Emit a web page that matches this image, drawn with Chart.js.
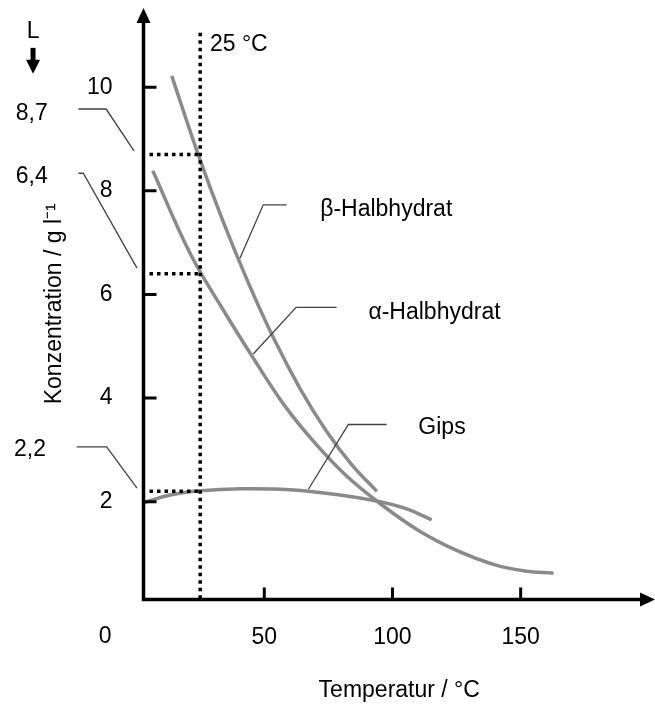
<!DOCTYPE html>
<html>
<head>
<meta charset="utf-8">
<script src="https://cdn.jsdelivr.net/npm/chart.js@4/dist/chart.umd.min.js"></script>
<style>
    html, body { margin: 0; padding: 0; background: #fff; }
    #chart_solubility { display: block; }
</style>
</head>
<body>
<canvas id="chart_solubility" width="655" height="704"></canvas>
<script>
// values (temperature in °C, concentration in g/l)
const betaTemp = [13.9, 24.3, 34, 44, 54, 64, 74, 84, 93.9];
const betaConc = [10.22, 8.69, 7.4, 6.2, 5.12, 4.18, 3.38, 2.72, 2.2];
const alphaTemp = [6.5, 21, 34, 46, 58, 70, 82, 95, 110, 125, 140, 152, 162.8];
const alphaConc = [8.39, 6.8, 5.7, 4.75, 3.85, 3.12, 2.5, 1.97, 1.45, 1.06, 0.78, 0.66, 0.62];
const gipsTemp = [3.5, 13.3, 25, 40.6, 60, 79.6, 95.2, 105.6, 115.3];
const gipsConc = [1.99, 2.13, 2.21, 2.25, 2.23, 2.13, 2.0, 1.86, 1.65];

const xTicks = [50, 100, 150];
const yTicks = [2, 4, 6, 8, 10];

const markTemp = 25;
const markConc = [8.7, 6.4, 2.2];
const markLabels = ['8,7', '6,4', '2,2'];

const FONT = '"Liberation Sans", Arial, sans-serif';
const font = { family: FONT, size: 23 };
const curveColor = '#8a8a8a';

function toPoints(xs, ys) {
    return xs.map((v, i) => ({ x: v, y: ys[i] }));
}

function curve(label, xs, ys) {
    return {
        label: label,
        data: toPoints(xs, ys),
        borderColor: curveColor,
        borderWidth: 3.5,
        pointRadius: 0,
        fill: false,
        tension: 0.4
    };
}

// leader lines, in data units [temp, conc]
const leaders = [
    [[-22.5, 9.58], [-11.7, 9.58], [-0.8, 8.77]],
    [[-22.5, 8.34], [-20.6, 8.34], [0.35, 6.51]],
    [[-23.2, 3.06], [-11.5, 3.06], [0.35, 2.26]],
    [[40.5, 6.7], [49.6, 7.73], [58.7, 7.73]],
    [[45.7, 4.85], [62.4, 5.75], [78.2, 5.75]],
    [[67.2, 2.24], [82.8, 3.49], [97.7, 3.49]]
];

// free texts: [text, temp, conc, align]
const notes = [
    ['β-Halbhydrat', 71.8, 7.63, 'left'],
    ['α-Halbhydrat', 90.6, 5.64, 'left'],
    ['Gips', 110.1, 3.42, 'left'],
    ['25 °C', 28.8, 10.82, 'left'],
    ['L', -40.2, 11.07, 'center'],
    ['0', -12.1, -0.61, 'center'],
    [markLabels[0], -40.7, 9.5, 'center'],
    [markLabels[1], -40.7, 8.27, 'center'],
    [markLabels[2], -41.4, 3.0, 'center']
];

const sketchPlugin = {
    id: 'sketch',
    afterDraw(chart) {
        const { ctx, chartArea } = chart;
        const sx = chart.scales.x;
        const sy = chart.scales.y;
        const px = v => sx.getPixelForValue(v);
        const py = v => sy.getPixelForValue(v);
        const left = chartArea.left, bottom = chartArea.bottom;

        ctx.save();

        // dotted guides at 25 °C
        ctx.strokeStyle = '#000';
        ctx.lineWidth = 3.5;
        ctx.setLineDash([3.5, 4]);
        ctx.beginPath();
        ctx.moveTo(px(markTemp), py(11.05));
        ctx.lineTo(px(markTemp), bottom);
        ctx.stroke();
        markConc.forEach(c => {
            ctx.beginPath();
            ctx.moveTo(left + 6, py(c));
            ctx.lineTo(px(markTemp), py(c));
            ctx.stroke();
        });
        ctx.setLineDash([]);

        // axes with arrows
        ctx.lineWidth = 3.5;
        ctx.beginPath();
        ctx.moveTo(left, bottom + 1.75);
        ctx.lineTo(left, chartArea.top + 10);
        ctx.moveTo(left - 1.75, bottom);
        ctx.lineTo(chartArea.right - 10, bottom);
        ctx.stroke();
        ctx.fillStyle = '#000';
        ctx.beginPath();
        ctx.moveTo(left, chartArea.top);
        ctx.lineTo(left - 7, chartArea.top + 15);
        ctx.lineTo(left + 7, chartArea.top + 15);
        ctx.closePath();
        ctx.fill();
        ctx.beginPath();
        ctx.moveTo(chartArea.right, bottom);
        ctx.lineTo(chartArea.right - 15, bottom - 7);
        ctx.lineTo(chartArea.right - 15, bottom + 7);
        ctx.closePath();
        ctx.fill();

        // inward tick marks
        ctx.lineWidth = 3;
        ctx.beginPath();
        yTicks.forEach(v => {
            ctx.moveTo(left, py(v));
            ctx.lineTo(left + 13, py(v));
        });
        xTicks.forEach(v => {
            ctx.moveTo(px(v), bottom);
            ctx.lineTo(px(v), bottom - 12);
        });
        ctx.stroke();

        // leader lines
        ctx.strokeStyle = '#404040';
        ctx.lineWidth = 1.3;
        leaders.forEach(pts => {
            ctx.beginPath();
            pts.forEach((p, i) => {
                if (i == 0) ctx.moveTo(px(p[0]), py(p[1]));
                else ctx.lineTo(px(p[0]), py(p[1]));
            });
            ctx.stroke();
        });

        // arrow under "L"
        const ax = px(-40.2);
        ctx.fillStyle = '#000';
        ctx.fillRect(ax - 2.5, py(10.76), 5, 13);
        ctx.beginPath();
        ctx.moveTo(ax - 7, py(10.53));
        ctx.lineTo(ax + 7, py(10.53));
        ctx.lineTo(ax, py(10.26));
        ctx.closePath();
        ctx.fill();

        // texts
        ctx.font = '23px ' + FONT;
        ctx.textBaseline = 'middle';
        notes.forEach(n => {
            ctx.textAlign = n[3];
            ctx.fillText(n[0], px(n[1]), py(n[2]));
        });

        ctx.restore();
    }
};

new Chart(document.querySelector('#chart_solubility'), {
    type: 'line',
    data: {
        datasets: [
            curve('β-Halbhydrat', betaTemp, betaConc),
            curve('α-Halbhydrat', alphaTemp, alphaConc),
            curve('Gips', gipsTemp, gipsConc)
        ]
    },
    options: {
        responsive: false,
        animation: false,
        devicePixelRatio: 1,
        layout: { padding: { top: 8, right: 0, bottom: 0, left: 0 } },
        plugins: {
            legend: { display: false },
            tooltip: { enabled: false }
        },
        scales: {
            x: {
                type: 'linear',
                min: 2.886,
                max: 202.4,
                afterBuildTicks: s => { s.ticks = xTicks.map(v => ({ value: v })); },
                afterFit: s => {
                    s.height = 104.5;
                    s.paddingLeft = 0;
                    s.paddingRight = 0;
                },
                grid: { display: false, drawTicks: false },
                border: { display: false },
                ticks: { padding: 24, font: font, color: '#000', maxRotation: 0, autoSkip: false },
                title: { display: true, text: 'Temperatur / °C', font: font, color: '#000', padding: 0 }
            },
            y: {
                type: 'linear',
                min: 0.112,
                max: 11.53,
                afterBuildTicks: s => { s.ticks = yTicks.map(v => ({ value: v })); },
                afterFit: s => {
                    s.width = 143.5;
                    s.paddingTop = 0;
                    s.paddingBottom = 0;
                },
                grid: { display: false, drawTicks: false },
                border: { display: false },
                ticks: { padding: 31, font: font, color: '#000', autoSkip: false },
                title: { display: true, text: 'Konzentration / g l⁻¹', font: font, color: '#000', padding: { top: 41, bottom: 0 } }
            }
        }
    },
    plugins: [sketchPlugin]
});
</script>
</body>
</html>
